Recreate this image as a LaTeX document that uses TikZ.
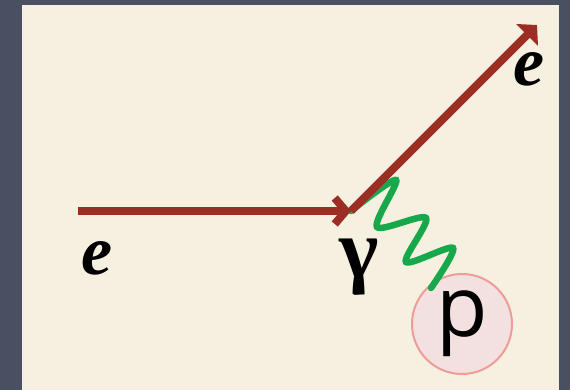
\documentclass[tikz,border=0pt]{standalone}
\usepackage{fontspec}
\usetikzlibrary{arrows.meta}
\setmainfont{Liberation Serif}
\newfontfamily\protonfont{Open Sans}
\definecolor{slate}{HTML}{495061}
\definecolor{paper}{HTML}{F6F0E1}
\definecolor{lepton}{HTML}{9B2D24}
\definecolor{boson}{HTML}{17A84C}
\definecolor{protonfill}{HTML}{F2E1E0}
\definecolor{protonline}{HTML}{EF9C96}

\begin{document}
\begin{tikzpicture}[
  x=1pt,y=-1pt,
  electron/.style={draw=lepton, line width=8pt},
  photon/.style={draw=boson, line width=6.5pt, line cap=round},
  elabel/.style={font=\rmfamily\bfseries\itshape\fontsize{70}{70}\selectfont, text=black, inner sep=0pt},
  proton/.style={circle, draw=protonline, fill=protonfill, line width=2pt,
    minimum size=100pt, inner sep=0pt, font=\protonfont\fontsize{84}{84}\selectfont}
]
\path[use as bounding box] (0,0) rectangle (570,390);

% Slide background
\fill[slate] (0,0) rectangle (570,390);
\fill[paper] (22,5) rectangle (559,390);

% Vertex and end points
\coordinate (ein)  at (78,211);
\coordinate (vtx)  at (351,211);
\coordinate (eout) at (537,25);
\coordinate (pend) at (431,288);

% Target proton
\node[proton] (p) at (462,324) {p};

% Exchanged photon
\draw[photon] plot[smooth, tension=0.5] coordinates
  {(vtx) (396,180) (377,227) (426,218) (406,262) (453,248) (pend)};

% Electron lines
\draw[electron, -{Straight Barb[length=11pt, width=26pt]}] (ein) -- (vtx);
\draw[electron, -{Triangle[length=14pt, width=30pt]}] (vtx) -- (eout);

% Labels
\node[elabel] (ein-lbl)  at (97,258) {e};
\node[elabel] (eout-lbl) at (529,69) {e};
\node[font=\rmfamily\bfseries\fontsize{84}{84}\selectfont, inner sep=0pt] (gam) at (359,267) {γ};

\end{tikzpicture}
\end{document}
